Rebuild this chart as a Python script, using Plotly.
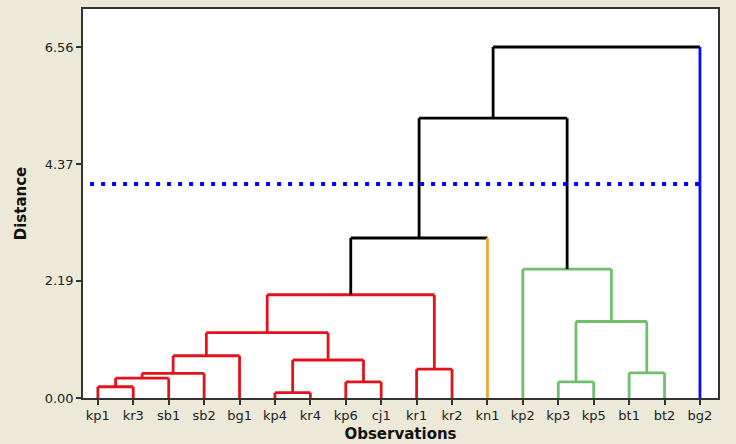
import plotly.graph_objects as go

# ---- data ----
leaves = ["kp1", "kr3", "sb1", "sb2", "bg1", "kp4", "kr4", "kp6", "cj1",
          "kr1", "kr2", "kn1", "kp2", "kp3", "kp5", "bt1", "bt2", "bg2"]
leaf_colors = ["#e3121b"] * 11 + ["#f0a830"] + ["#6fbf6f"] * 5 + ["#0a0aff"]

# merges: cluster ids 0..17 are leaves, merge k gets id 18+k
merge_left = [0, 18, 19, 20, 5, 7, 22, 21, 9, 25, 13, 15, 28, 12, 27, 32, 33]
merge_right = [1, 2, 3, 4, 6, 8, 23, 24, 10, 26, 14, 16, 29, 30, 11, 31, 17]
merge_height = [0.21, 0.37, 0.46, 0.79, 0.10, 0.30, 0.71, 1.22, 0.54, 1.93,
                0.30, 0.47, 1.43, 2.41, 2.99, 5.23, 6.56]
merge_color = ["#e3121b"] * 10 + ["#6fbf6f"] * 4 + ["#000000"] * 3

cut_height = 4.0
y_ticks = [0.00, 2.19, 4.37, 6.56]

# ---- build dendrogram geometry ----
n = len(leaves)
xpos = {i: i for i in range(n)}
ypos = {i: 0.0 for i in range(n)}
segs = {}  # color -> (xs, ys)


def add(color, xs, ys):
    d = segs.setdefault(color, ([], []))
    d[0].extend(xs + [None])
    d[1].extend(ys + [None])


for k, (a, b, h, c) in enumerate(zip(merge_left, merge_right, merge_height, merge_color)):
    cid = n + k
    for ch in (a, b):
        vc = leaf_colors[ch] if ch < n else c
        add(vc, [xpos[ch], xpos[ch]], [ypos[ch], h])
    add(c, [xpos[a], xpos[b]], [h, h])
    xpos[cid] = (xpos[a] + xpos[b]) / 2
    ypos[cid] = h

fig = go.Figure()
for color, (xs, ys) in segs.items():
    fig.add_trace(go.Scatter(x=xs, y=ys, mode="lines",
                             line=dict(color=color, width=2.8),
                             hoverinfo="skip", showlegend=False))

fig.add_trace(go.Scatter(x=[-0.22, n - 1], y=[cut_height, cut_height], mode="lines",
                         line=dict(color="#0000ff", width=4, dash="4px,7px"),
                         hoverinfo="skip", showlegend=False))

font_tick = dict(family="DejaVu Sans", size=13, color="#222222")
font_title = dict(family="DejaVu Sans", size=15, color="#111111")
fig.update_layout(
    width=736, height=444,
    margin=dict(l=83, r=18, t=9, b=46),
    paper_bgcolor="#ece9d8",
    plot_bgcolor="#ffffff",
    xaxis=dict(range=[-0.42, 17.51], tickmode="array",
               tickvals=list(range(n)), ticktext=leaves,
               showgrid=False, zeroline=False, automargin=False,
               showline=True, linecolor="#333333", linewidth=1.5, mirror=True,
               ticks="outside", ticklen=5, tickcolor="#333333", tickwidth=1.5,
               tickfont=font_tick,
               title=dict(text="<b>Observations</b>", standoff=6, font=font_title)),
    yaxis=dict(range=[0, 7.27], tickmode="array", tickvals=y_ticks,
               ticktext=[f"{v:.2f}" for v in y_ticks],
               showgrid=False, zeroline=False, automargin=False,
               showline=True, linecolor="#333333", linewidth=1.5, mirror=True,
               ticks="outside", ticklen=5, tickcolor="#333333", tickwidth=1.5,
               tickfont=font_tick,
               title=dict(text="<b>Distance</b>", standoff=14, font=font_title)),
)

fig.write_html("out.html")
